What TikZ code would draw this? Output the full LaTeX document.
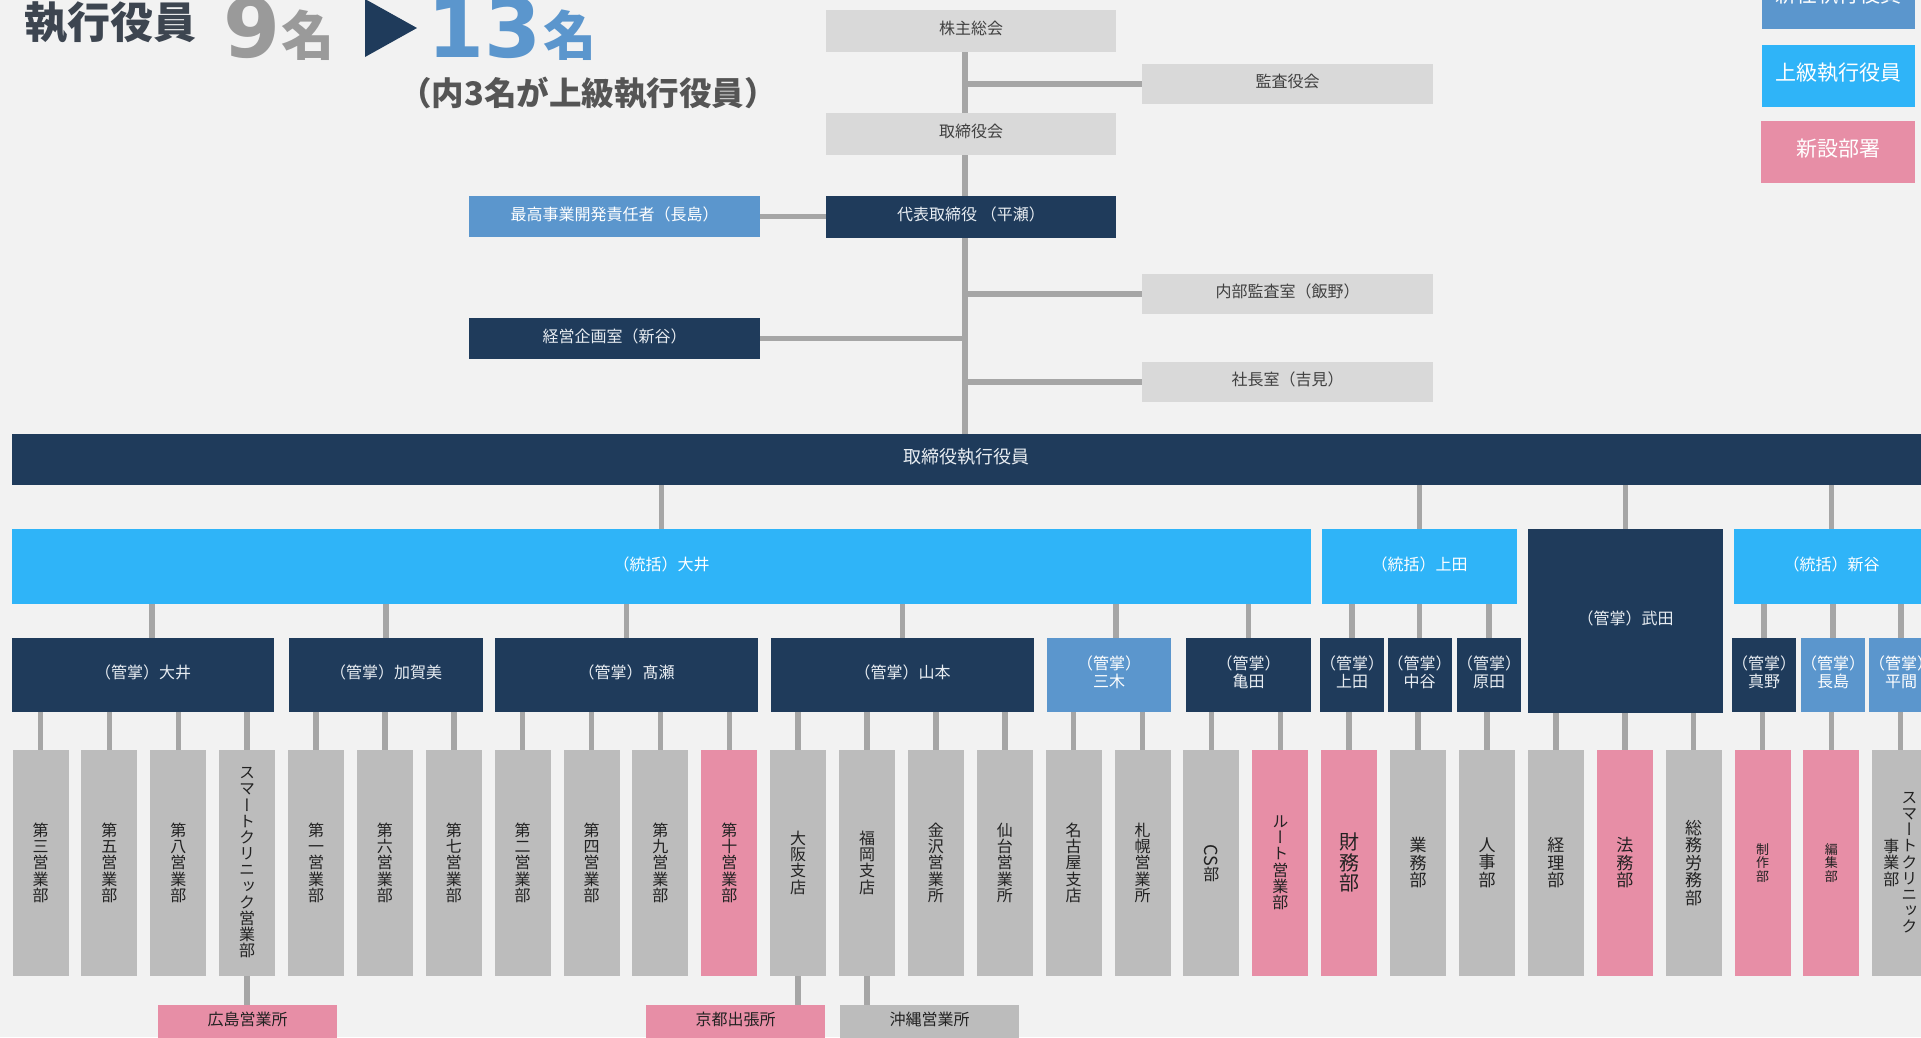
\documentclass[tikz,border=0pt]{standalone}
\usepackage{fontspec}
\usepackage{graphicx}
\setmainfont{Noto Sans CJK JP}
\newfontfamily\vfont[RawFeature=+vert]{Noto Sans CJK JP}
\newfontfamily\digfont{DejaVu Sans}
\usetikzlibrary{calc}
\definecolor{bgc}{HTML}{F2F2F2}
\definecolor{navy}{HTML}{1F3B5B}
\definecolor{sky}{HTML}{2FB4F8}
\definecolor{midb}{HTML}{5B96CD}
\definecolor{pinkc}{HTML}{E78EA6}
\definecolor{colgr}{HTML}{BCBCBC}
\definecolor{lgr}{HTML}{D9D9D9}
\definecolor{cline}{HTML}{A6A6A6}
\definecolor{ttlc}{HTML}{3D4550}
\definecolor{nine}{HTML}{9A9A9A}
\definecolor{subc}{HTML}{555555}
\definecolor{lgtext}{HTML}{404040}
\definecolor{navytext}{HTML}{E8EDF2}
\definecolor{coltext}{HTML}{222222}
\pgfdeclarelayer{bgl}
\pgfdeclarelayer{lines}
\pgfsetlayers{bgl,lines,main}
\newcommand\fsz[2]{\fontsize{#1}{#2}\selectfont}
\newcommand\mybox[7]{%
  \pgfmathsetmacro\mbw{#5-#3}\pgfmathsetmacro\mbh{#6-#4}%
  \node[#1,minimum width=\mbw pt,minimum height=\mbh pt] (#2) at ({(#3+#5)/2},{(#4+#6)/2}) {#7};}
\newcommand\colnode[3]{\node[#2] (c#1) at ({40.5+(#1-1)*68.88},862.75) {#3};}
\begin{document}
\begin{tikzpicture}[x=1pt,y=-1pt,
  base/.style={inner sep=0pt,outer sep=0pt,draw=none,align=center},
  tup/.style={execute at end node={\rule[-0.4em]{0pt}{0.4em}}},
  lg/.style={base,tup,fill=lgr,text=lgtext,font=\fsz{16}{18}},
  nv/.style={base,tup,fill=navy,text=navytext,font=\fsz{16}{18}},
  skyb/.style={base,tup,fill=sky,text=white,font=\fsz{16}{18}},
  mb/.style={base,tup,fill=midb,text=white,font=\fsz{16}{18}},
  leg/.style={base,tup,text=white,font=\fsz{21}{21}},
  colg/.style={base,fill=colgr,text=coltext,minimum width=56pt,minimum height=225.5pt,font=\vfont\fsz{16}{16.2}},
  colp/.style={colg,fill=pinkc},
  subg/.style={base,tup,fill=colgr,text=coltext,font=\fsz{16}{18}},
  subp/.style={subg,fill=pinkc},
  conn/.style={draw=cline,line width=5.5pt}]
\useasboundingbox (0,0) rectangle (1921,1037);
\begin{pgfonlayer}{bgl}
\fill[bgc] (0,0) rectangle (1921,1037);
\end{pgfonlayer}

% ---- title ----
\node[base,anchor=west,text=ttlc,font=\bfseries\fsz{43}{43}] (ttl) at (24,23) {執行役員};
\node[base,anchor=base west,text=nine,font=\digfont\bfseries\fsz{82}{82}] (nine) at (223,57) {9};
\node[base,anchor=west,text=nine,font=\bfseries\fsz{53}{53}] (mei1) at (281,35) {名};
\fill[navy] (365,-1) -- (417,28) -- (365,57) -- cycle;
\node[base,anchor=base west,text=midb,font=\digfont\bfseries\fsz{82}{82}] (thirteen) at (427,57) {13};
\node[base,anchor=west,text=midb,font=\bfseries\fsz{53}{53}] (mei2) at (543,35) {名};
\node[base,text=subc,font=\bfseries\fsz{32.5}{32.5}] (subt) at (588,93) {（内3名が上級執行役員）};

% ---- legend ----
\mybox{leg,fill=midb}{lega}{1762}{-33}{1915}{29}{新任執行役員}
\mybox{leg,fill=sky}{legb}{1762}{45}{1915}{107}{上級執行役員}
\mybox{leg,fill=pinkc}{legc}{1761}{121}{1915}{183}{新設部署}

% ---- top ----
\coordinate (tk) at (965,0);
\mybox{lg}{kabu}{826}{10}{1116}{52}{株主総会}
\mybox{lg}{kansa}{1142}{64}{1433}{104}{監査役会}
\mybox{lg}{tori}{826}{113}{1116}{155}{取締役会}
\mybox{nv}{daihyo}{826}{196}{1116}{238}{代表取締役 （平瀬）}
\mybox{mb}{saiko}{469}{196}{760}{237}{最高事業開発責任者（長島）}
\mybox{lg}{naibu}{1142}{274}{1433}{314}{内部監査室（飯野）}
\mybox{nv}{keiei}{469}{318}{760}{359}{経営企画室（新谷）}
\mybox{lg}{shacho}{1142}{362}{1433}{402}{社長室（吉見）}
\mybox{nv,font=\fsz{18}{18}}{bar}{12}{434}{1921}{485}{取締役執行役員}

% ---- toukatsu ----
\mybox{skyb}{tOoi}{12}{529}{1311}{604}{（統括）大井}
\mybox{skyb}{tUeda}{1322}{529}{1517}{604}{（統括）上田}
\mybox{nv}{takeda}{1528}{529}{1723}{713}{（管掌）武田}
\mybox{skyb}{tShin}{1734}{529}{1929}{604}{（統括）新谷}

% ---- kansho ----
\mybox{nv}{kOoi}{12}{638}{274}{712}{（管掌）大井}
\mybox{nv}{kKagami}{289}{638}{483}{712}{（管掌）加賀美}
\mybox{nv}{kTakase}{495}{638}{758}{712}{（管掌）髙瀬}
\mybox{nv}{kYamamoto}{771}{638}{1034}{712}{（管掌）山本}
\mybox{mb}{kMiki}{1047}{638}{1171}{712}{（管掌）\\三木}
\mybox{nv}{kKameda}{1186}{638}{1311}{712}{（管掌）\\亀田}
\mybox{nv}{kUeda}{1324}{638}{1380}{712}{（管掌）\\上田}
\mybox{nv}{kNakatani}{1392}{638}{1447}{712}{（管掌）\\中谷}
\mybox{nv}{kHarada}{1460}{638}{1518}{712}{（管掌）\\原田}
\mybox{nv}{kMano}{1736}{638}{1792}{712}{（管掌）\\真野}
\mybox{mb}{kNagashima}{1805}{638}{1861}{712}{（管掌）\\長島}
\mybox{mb}{kHirama}{1873}{638}{1929}{712}{（管掌）\\平間}

% ---- columns ----
\colnode{1}{colg}{第\\三\\営\\業\\部}
\colnode{2}{colg}{第\\五\\営\\業\\部}
\colnode{3}{colg}{第\\八\\営\\業\\部}
\colnode{4}{colg}{ス\\マ\\ー\\ト\\ク\\リ\\ニ\\ッ\\ク\\営\\業\\部}
\colnode{5}{colg}{第\\一\\営\\業\\部}
\colnode{6}{colg}{第\\六\\営\\業\\部}
\colnode{7}{colg}{第\\七\\営\\業\\部}
\colnode{8}{colg}{第\\二\\営\\業\\部}
\colnode{9}{colg}{第\\四\\営\\業\\部}
\colnode{10}{colg}{第\\九\\営\\業\\部}
\colnode{11}{colp}{第\\十\\営\\業\\部}
\colnode{12}{colg}{大\\阪\\支\\店}
\colnode{13}{colg}{福\\岡\\支\\店}
\colnode{14}{colg}{金\\沢\\営\\業\\所}
\colnode{15}{colg}{仙\\台\\営\\業\\所}
\colnode{16}{colg}{名\\古\\屋\\支\\店}
\colnode{17}{colg}{札\\幌\\営\\業\\所}
\colnode{18}{colg}{\rotatebox[origin=c]{-90}{\fsz{18}{18}CS}\\部}
\colnode{19}{colp}{ル\\ー\\ト\\営\\業\\部}
\colnode{20}{colp,font=\vfont\fsz{20}{20.5}}{財\\務\\部}
\colnode{21}{colg,font=\vfont\fsz{17}{17.5}}{業\\務\\部}
\colnode{22}{colg,font=\vfont\fsz{17}{17.5}}{人\\事\\部}
\colnode{23}{colg,font=\vfont\fsz{17}{17.5}}{経\\理\\部}
\colnode{24}{colp,font=\vfont\fsz{17}{17.5}}{法\\務\\部}
\colnode{25}{colg,font=\vfont\fsz{17}{17.5}}{総\\務\\労\\務\\部}
\colnode{26}{colp,font=\vfont\fsz{13}{13.5}}{制\\作\\部}
\colnode{27}{colp,font=\vfont\fsz{13}{13.5}}{編\\集\\部}
\colnode{28}{colg}{\parbox[c]{17pt}{\centering 事\\業\\部}\hspace{1pt}\parbox[c]{17pt}{\centering ス\\マ\\ー\\ト\\ク\\リ\\ニ\\ッ\\ク}}

% ---- sub offices ----
\mybox{subp}{hiro}{158}{1005}{337}{1039}{広島営業所}
\mybox{subp}{kyoto}{646}{1005}{825}{1039}{京都出張所}
\mybox{subg}{okinawa}{840}{1005}{1019}{1039}{沖縄営業所}

% ---- connectors ----
\begin{pgfonlayer}{lines}
\draw[conn] (kabu.south -| tk) -- (bar.north -| tk);
\draw[conn] (tk |- kansa.west) -- (kansa.west);
\draw[conn] (tk |- naibu.west) -- (naibu.west);
\draw[conn] (tk |- shacho.west) -- (shacho.west);
\draw[conn] (saiko.east) -- (saiko.east -| daihyo.west);
\draw[conn] (keiei.east) -- (keiei.east -| tk);
\foreach \t in {tOoi,tUeda,takeda,tShin}
  \draw[conn] (bar.south -| \t.north) -- (\t.north);
\draw[conn] ($(kOoi.north)+(9,0)$) -- ($(kOoi.north |- tOoi.south)+(9,0)$);
\draw[conn] ($(kMiki.north)+(7,0)$) -- ($(kMiki.north |- tOoi.south)+(7,0)$);
\foreach \k in {kKagami,kTakase,kYamamoto,kKameda}
  \draw[conn] (\k.north) -- (\k.north |- tOoi.south);
\foreach \k in {kUeda,kNakatani,kHarada}
  \draw[conn] (\k.north) -- (\k.north |- tUeda.south);
\foreach \k in {kMano,kNagashima,kHirama}
  \draw[conn] (\k.north) -- (\k.north |- tShin.south);
\foreach \p/\c in {kOoi/1,kOoi/2,kOoi/3,kOoi/4,kKagami/5,kKagami/6,kKagami/7,
  kTakase/8,kTakase/9,kTakase/10,kTakase/11,kYamamoto/12,kYamamoto/13,kYamamoto/14,kYamamoto/15,
  kMiki/16,kMiki/17,kKameda/18,kKameda/19,kUeda/20,kNakatani/21,kHarada/22,
  takeda/23,takeda/24,takeda/25,kMano/26,kNagashima/27,kHirama/28}
  \draw[conn] (\p.south -| c\c) -- (c\c.north);
\draw[conn] (c4.south) -- (c4.south |- hiro.north);
\draw[conn] (c12.south) -- (c12.south |- kyoto.north);
\draw[conn] (c13.south) -- (c13.south |- okinawa.north);
\end{pgfonlayer}
\end{tikzpicture}
\end{document}
